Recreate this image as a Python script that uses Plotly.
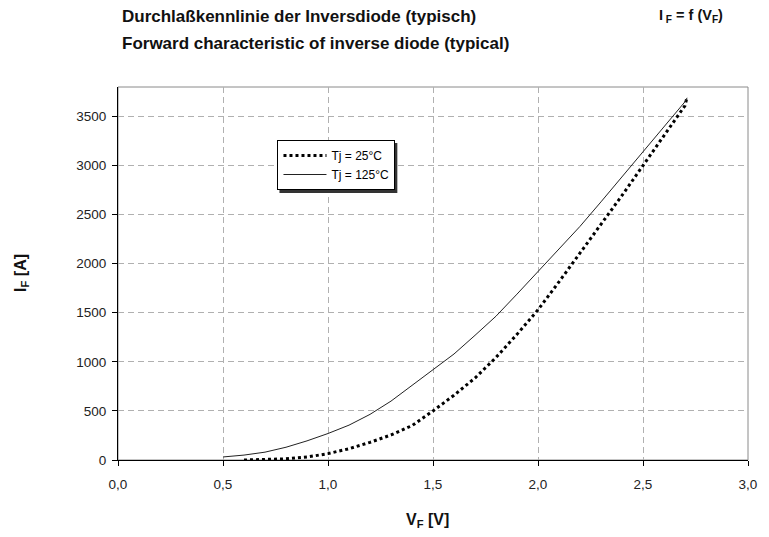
import plotly.graph_objects as go

# Data
vf_125 = [0.5, 0.6, 0.7, 0.8, 0.9, 1.0, 1.1, 1.2, 1.3, 1.4, 1.5, 1.6, 1.7, 1.8, 1.9, 2.0,
          2.1, 2.2, 2.3, 2.4, 2.5, 2.6, 2.7, 2.71]
if_125 = [31, 50, 80, 130, 195, 270, 355, 465, 600, 760, 915, 1080, 1270, 1465, 1690, 1920,
          2160, 2380, 2630, 2885, 3140, 3390, 3650, 3690]

vf_25 = [0.6, 0.7, 0.8, 0.9, 1.0, 1.1, 1.2, 1.3, 1.4, 1.5, 1.6, 1.7, 1.8, 1.9, 2.0,
         2.1, 2.2, 2.3, 2.4, 2.5, 2.6, 2.7, 2.71]
if_25 = [0, 3, 12, 30, 65, 115, 180, 255, 350, 500, 660, 835, 1045, 1280, 1530,
         1815, 2105, 2395, 2695, 3000, 3305, 3610, 3700]

x_ticks = [0.0, 0.5, 1.0, 1.5, 2.0, 2.5, 3.0]
x_tick_labels = ["0,0", "0,5", "1,0", "1,5", "2,0", "2,5", "3,0"]
y_ticks = [0, 500, 1000, 1500, 2000, 2500, 3000, 3500]
y_tick_labels = ["0", "500", "1000", "1500", "2000", "2500", "3000", "3500"]

FONT = "Liberation Sans, Arial, sans-serif"

fig = go.Figure()
fig.add_trace(go.Scatter(x=vf_25, y=if_25, mode="lines", name="Tj = 25°C",
                         line=dict(color="black", width=3, dash="3px,3px")))
fig.add_trace(go.Scatter(x=vf_125, y=if_125, mode="lines", name="Tj = 125°C",
                         line=dict(color="#222222", width=1)))

axis_common = dict(showline=True, linecolor="black", linewidth=1,
                   ticks="outside", tickcolor="black", ticklen=5,
                   showgrid=True, gridcolor="#b0b0b0", gridwidth=1, griddash="6px,4px",
                   zeroline=False, tickfont=dict(family=FONT, size=13.5, color="#222222"))

fig.update_xaxes(range=[0, 3.0], tickvals=x_ticks, ticktext=x_tick_labels,
                 ticklabelstandoff=7, **axis_common)
fig.update_yaxes(range=[0, 3800], tickvals=y_ticks, ticktext=y_tick_labels,
                 ticklabelstandoff=3, **axis_common)

# gray top / right frame
fig.add_shape(type="rect", xref="x domain", yref="y domain", x0=0, x1=1, y0=0, y1=1,
              line=dict(color="#8a8a8a", width=1), layer="below")

def px_x(p):
    return (p - 118) / 636

def px_y(p):
    return (460 - p) / 373

# legend shadow
fig.add_shape(type="rect", xref="paper", yref="paper",
              x0=px_x(281), x1=px_x(400),
              y0=px_y(193), y1=px_y(143),
              fillcolor="#333333", line=dict(width=0), layer="above")

annotations = [
    dict(text="<b>Durchlaßkennlinie der Inversdiode (typisch)</b>", x=px_x(120), y=px_y(16),
         xanchor="left", yanchor="middle", font=dict(size=17)),
    dict(text="<b>Forward characteristic of inverse diode (typical)</b>", x=px_x(120), y=px_y(44),
         xanchor="left", yanchor="middle", font=dict(size=17)),
    dict(text="<b>I<sub> F</sub> = f (V<sub>F</sub>)</b>", x=px_x(731), y=px_y(16),
         xanchor="right", yanchor="middle", font=dict(size=14.5)),
    dict(text="<b>I<sub>F</sub> [A]</b>", x=px_x(20), y=px_y(273), textangle=-90,
         xanchor="center", yanchor="middle", font=dict(size=16)),
    dict(text="<b>V<sub>F</sub> [V]</b>", x=px_x(430), y=px_y(520),
         xanchor="center", yanchor="middle", font=dict(size=16)),
]
for a in annotations:
    a.update(xref="paper", yref="paper", showarrow=False)
    a["font"].update(family=FONT, color="#111111")

fig.update_layout(
    width=761, height=529,
    margin=dict(l=110, r=15, t=79, b=77),
    paper_bgcolor="white", plot_bgcolor="white",
    showlegend=True,
    legend=dict(x=px_x(279), y=px_y(140), xanchor="left", yanchor="top",
                bgcolor="white", bordercolor="black", borderwidth=1,
                font=dict(family=FONT, size=12, color="black"),
                tracegroupgap=0, itemwidth=43),
    annotations=annotations,
    font=dict(family=FONT),
)

fig.write_html("out.html")
